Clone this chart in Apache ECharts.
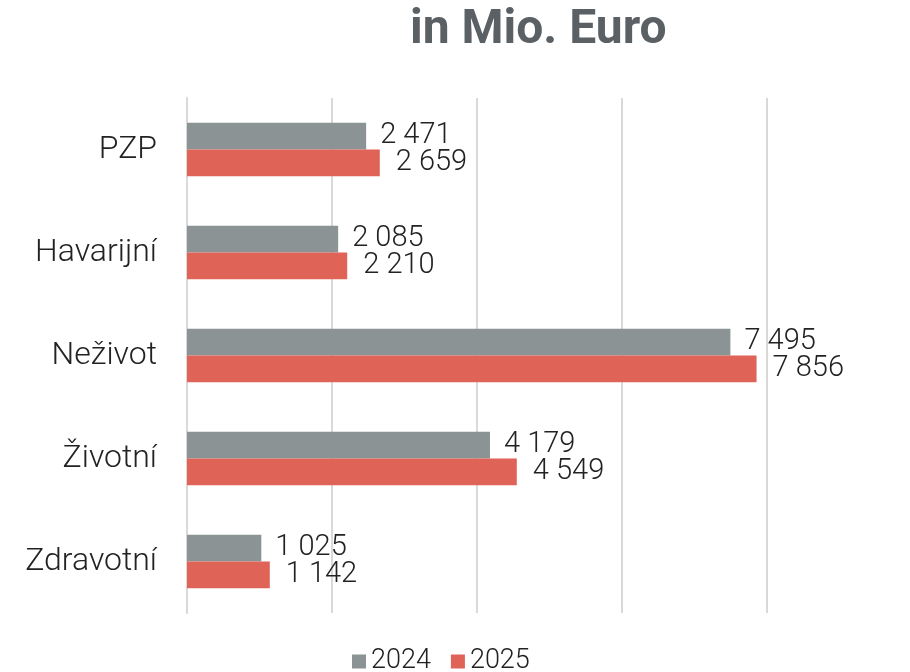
<!DOCTYPE html>
<html>
<head>
<meta charset="utf-8">
<script src="https://cdn.jsdelivr.net/npm/echarts@6/dist/echarts.min.js"></script>
<style>
  html, body { margin: 0; padding: 0; background: #fff; }
  #chart { width: 910px; height: 672px; }
</style>
</head>
<body>
<div id="chart"></div>
<script>
const categories = ['PZP', 'Havarijní', 'Neživot', 'Životní', 'Zdravotní']
const values2024 = [2471, 2085, 7495, 4179, 1025]
const values2025 = [2659, 2210, 7856, 4549, 1142]
const seriesNames = ['2024', '2025']

function fmt(v) {
    return String(v).replace(/\B(?=(\d{3})+(?!\d))/g, ' ')
}

const chart = echarts.init(document.getElementById('chart'))
chart.setOption({
    animation: false,
    title: {
        text: 'in Mio. Euro',
        left: 405,
        top: 2,
        textStyle: { fontFamily: 'Roboto', fontWeight: 'bold', fontSize: 48, color: '#5a6064' }
    },
    legend: {
        data: seriesNames,
        top: 643,
        left: 347,
        itemWidth: 14,
        itemHeight: 14,
        itemGap: 20,
        icon: 'rect',
        textStyle: { fontFamily: 'Roboto', fontWeight: 300, fontSize: 27, color: '#222' }
    },
    grid: { left: 187, right: 143, top: 98, bottom: 59 },
    xAxis: {
        type: 'value',
        min: 0,
        max: 8000,
        interval: 2000,
        axisLabel: { show: false },
        axisLine: { show: false },
        axisTick: { show: false },
        splitLine: { lineStyle: { color: '#d9d9d9', width: 2 } }
    },
    yAxis: {
        type: 'category',
        data: categories,
        inverse: true,
        axisLine: { lineStyle: { color: '#d9d9d9', width: 2 } },
        axisTick: { show: false },
        axisLabel: { margin: 30, fontFamily: 'Roboto', fontWeight: 300, fontSize: 32, color: '#222' }
    },
    series: [
        {
            name: seriesNames[0],
            type: 'bar',
            data: values2024,
            barGap: '0%',
            barCategoryGap: '48%',
            itemStyle: { color: '#8c9394' },
            label: {
                show: true, position: 'right', distance: 14,
                formatter: p => fmt(p.value),
                fontFamily: 'Roboto', fontWeight: 300, fontSize: 29, color: '#222'
            }
        },
        {
            name: seriesNames[1],
            type: 'bar',
            data: values2025,
            itemStyle: { color: '#e06358' },
            label: {
                show: true, position: 'right', distance: 16,
                formatter: p => fmt(p.value),
                fontFamily: 'Roboto', fontWeight: 300, fontSize: 29, color: '#222'
            }
        }
    ]
})
</script>
</body>
</html>
